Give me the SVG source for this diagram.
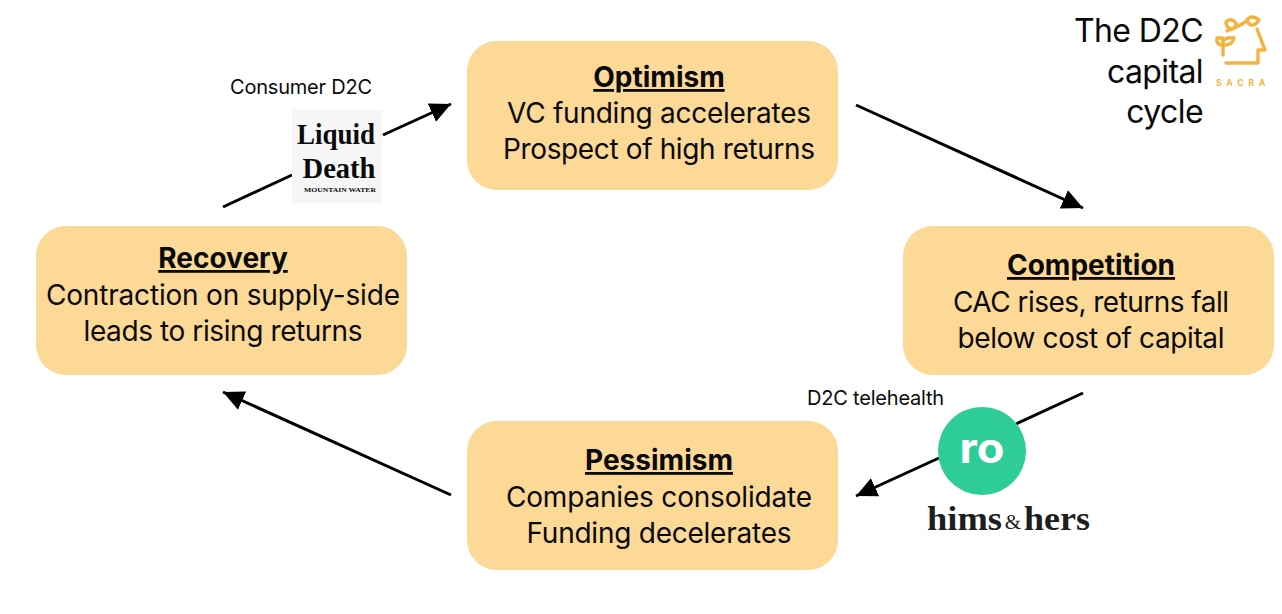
<svg xmlns="http://www.w3.org/2000/svg" width="1282" height="614" viewBox="0 0 1282 614">
<style>
  text { font-family: "Inter", "Liberation Sans", sans-serif; fill: #0a0a0a; }
  .box { fill: #fdd998; }
  .head { font-size: 28px; font-weight: 700; text-anchor: middle; text-decoration: underline; }
  .body { font-size: 28px; text-anchor: middle; }
  .note { font-size: 20px; letter-spacing: -0.2px; }
  .title { font-size: 32px; text-anchor: end; letter-spacing: -0.6px; }
  .wire { stroke: #000; stroke-width: 3; fill: none; }
  .logo { stroke: #f3b33d; stroke-width: 3.4; fill: none; stroke-linejoin: round; stroke-linecap: round; }
  .serif { font-family: "Liberation Serif", serif; font-weight: 700; }
</style>
<defs>
  <marker id="head" markerUnits="userSpaceOnUse" markerWidth="24" markerHeight="22" refX="21" refY="11" orient="auto">
    <path d="M0 1L21 11L0 21Z" fill="#000"/>
  </marker>
</defs>
<rect width="1282" height="614" fill="#fff"/>

<g id="connectors">
  <line class="wire" x1="223" y1="207" x2="292" y2="175"/>
  <line class="wire" x1="383" y1="135" x2="451" y2="104" marker-end="url(#head)"/>
  <line class="wire" x1="856" y1="105" x2="1083" y2="208" marker-end="url(#head)"/>
  <line class="wire" x1="1083" y1="393" x2="1016" y2="424"/>
  <line class="wire" x1="939" y1="458" x2="856" y2="496" marker-end="url(#head)"/>
  <line class="wire" x1="451" y1="495" x2="223" y2="392" marker-end="url(#head)"/>
</g>

<g id="node-optimism">
  <rect class="box" x="467" y="41" width="371" height="149" rx="30"/>
  <text class="head" x="659" y="87">Optimism</text>
  <text class="body" x="659" y="123" textLength="304">VC funding accelerates</text>
  <text class="body" x="659" y="159" textLength="312">Prospect of high returns</text>
</g>
<g id="node-competition">
  <rect class="box" x="903" y="226" width="371" height="149" rx="30"/>
  <text class="head" x="1091" y="275">Competition</text>
  <text class="body" x="1091" y="312" textLength="276">CAC rises, returns fall</text>
  <text class="body" x="1091" y="348" textLength="267">below cost of capital</text>
</g>
<g id="node-pessimism">
  <rect class="box" x="467" y="421" width="371" height="149" rx="30"/>
  <text class="head" x="659" y="470">Pessimism</text>
  <text class="body" x="659" y="507" textLength="306">Companies consolidate</text>
  <text class="body" x="659" y="543" textLength="265">Funding decelerates</text>
</g>
<g id="node-recovery">
  <rect class="box" x="36" y="226" width="371" height="149" rx="30"/>
  <text class="head" x="223" y="268">Recovery</text>
  <text class="body" x="223" y="305" textLength="354">Contraction on supply-side</text>
  <text class="body" x="223" y="341" textLength="279">leads to rising returns</text>
</g>

<g id="title">
  <text class="title" x="1203" y="42">The D2C</text>
  <text class="title" x="1203" y="83">capital</text>
  <text class="title" x="1203" y="123">cycle</text>
</g>
<g id="sacra-mark">
  <!-- sprout stem and its two low leaves -->
  <path class="logo" d="M1223 55V38"/>
  <path class="logo" d="M1217 38Q1222 37 1223 41Q1226 37 1234 38Q1233 44 1226 45H1221Q1216 44 1217 38Z"/>
  <!-- branch with the two upper leaves -->
  <path class="logo" d="M1227 31Q1238 27 1247 21"/>
  <path class="logo" d="M1226 22Q1231 17 1236 23Q1236 28 1232 29Q1226 28 1226 22Z"/>
  <path class="logo" d="M1247 20Q1252 14 1259 20Q1255 26 1251 25Q1248 24 1247 20Z"/>
  <!-- head profile -->
  <path class="logo" d="M1257 29L1265 50H1258V63H1226"/>
  <text x="1216" y="86" font-size="8.500" font-weight="700" letter-spacing="4.900" style="fill:#f3b33d">SACRA</text>
</g>

<g id="label-consumer">
  <text class="note" x="230" y="94">Consumer D2C</text>
  <rect x="292" y="110" width="90" height="93" fill="#f6f6f6"/>
  <text class="serif" x="336" y="144" font-size="30" text-anchor="middle" textLength="78" lengthAdjust="spacingAndGlyphs">Liquid</text>
  <text class="serif" x="339" y="178" font-size="30" text-anchor="middle" textLength="73" lengthAdjust="spacingAndGlyphs">Death</text>
  <text class="serif" x="340" y="192" font-size="7" text-anchor="middle" textLength="72" lengthAdjust="spacingAndGlyphs">MOUNTAIN WATER</text>
</g>

<g id="label-telehealth">
  <text class="note" x="807" y="405">D2C telehealth</text>
  <circle cx="982" cy="451" r="44" fill="#2ecc98"/>
  <text x="982" y="463" font-size="42" font-weight="700" text-anchor="middle" textLength="45" lengthAdjust="spacingAndGlyphs" style="fill:#fff">ro</text>
  <text class="serif" x="927" y="530" font-size="33" textLength="75" lengthAdjust="spacingAndGlyphs" style="fill:#1d1d22">hims</text>
  <text x="1013" y="529" font-size="21" text-anchor="middle" style="font-family:'Liberation Serif',serif;fill:#1d1d22">&amp;</text>
  <text class="serif" x="1024" y="530" font-size="33" textLength="66" lengthAdjust="spacingAndGlyphs" style="fill:#1d1d22">hers</text>
</g>
</svg>
